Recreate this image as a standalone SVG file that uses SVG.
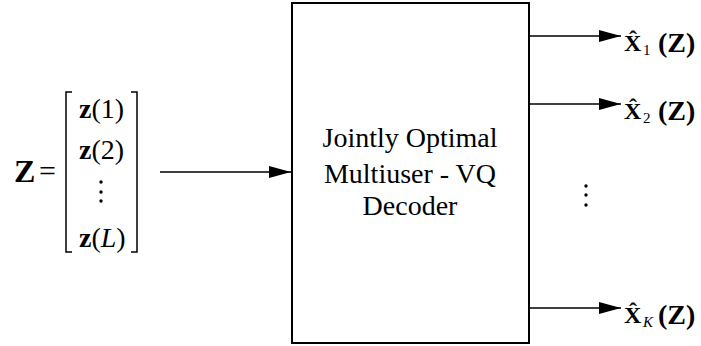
<svg xmlns="http://www.w3.org/2000/svg" width="701" height="346" viewBox="0 0 701 346">
  <style>
    .ln { stroke: #000; stroke-width: 1.5; fill: none; }
    .box { stroke: #000; stroke-width: 2; fill: #fff; }
    text { font-family: "Liberation Serif", "Times New Roman", "DejaVu Serif", serif; fill: #000; }
    .label { font-size: 28px; text-anchor: middle; }
    .math { font-size: 28px; }
    .out { font-size: 24px; font-weight: bold; }
    .paren { font-size: 28px; font-weight: bold; }
    .sub { font-size: 15px; }
  </style>
  <defs>
    <marker id="arrow" viewBox="0 0 22 12" refX="22" refY="6" markerWidth="22" markerHeight="12" markerUnits="userSpaceOnUse" orient="auto">
      <path d="M0,0 L22,6 L0,12 Z" fill="#000"/>
    </marker>
  </defs>

  <!-- input vector Z = [z(1) ... z(L)] -->
  <g id="input-vector">
    <text x="14" y="182" style="font-size:32px;font-weight:bold">Z</text>
    <text x="39" y="181" style="font-size:30px">=</text>
    <path class="ln" d="M72,92 H66 V252 H72"/>
    <path class="ln" d="M131,92 H137 V252 H131"/>
    <text class="math" x="79" y="118"><tspan font-weight="bold">z</tspan>(1)</text>
    <text class="math" x="79" y="159"><tspan font-weight="bold">z</tspan>(2)</text>
    <circle cx="101" cy="182" r="1.7" fill="#000"/>
    <circle cx="101" cy="192" r="1.7" fill="#000"/>
    <circle cx="101" cy="201" r="1.7" fill="#000"/>
    <text class="math" x="79" y="247"><tspan font-weight="bold">z</tspan>(<tspan font-style="italic">L</tspan>)</text>
  </g>

  <!-- decoder block -->
  <g id="decoder">
    <rect class="box" x="292" y="3" width="237" height="340"/>
    <text class="label" x="410" y="147">Jointly Optimal</text>
    <text class="label" x="410" y="183">Multiuser - VQ</text>
    <text class="label" x="410" y="215">Decoder</text>
  </g>

  <!-- connectors -->
  <g id="connectors">
    <line class="ln" x1="160" y1="172" x2="291" y2="172" marker-end="url(#arrow)"/>
    <line class="ln" x1="529" y1="36" x2="621" y2="36" marker-end="url(#arrow)"/>
    <line class="ln" x1="529" y1="104" x2="621" y2="104" marker-end="url(#arrow)"/>
    <line class="ln" x1="529" y1="308" x2="621" y2="308" marker-end="url(#arrow)"/>
  </g>

  <!-- output estimates -->
  <g id="output-1">
    <text class="out" x="624" y="51">X̂</text>
    <text class="sub" x="643" y="55">1</text>
    <text class="paren" x="658" y="52">(Z)</text>
  </g>
  <g id="output-2">
    <text class="out" x="624" y="119">X̂</text>
    <text class="sub" x="643" y="123">2</text>
    <text class="paren" x="658" y="120">(Z)</text>
  </g>
  <g id="output-dots">
    <circle cx="586" cy="186" r="1.7" fill="#000"/>
    <circle cx="586" cy="195" r="1.7" fill="#000"/>
    <circle cx="586" cy="205" r="1.7" fill="#000"/>
  </g>
  <g id="output-K">
    <text class="out" x="624" y="323">X̂</text>
    <text class="sub" x="643" y="327" font-style="italic">K</text>
    <text class="paren" x="658" y="324">(Z)</text>
  </g>
</svg>
